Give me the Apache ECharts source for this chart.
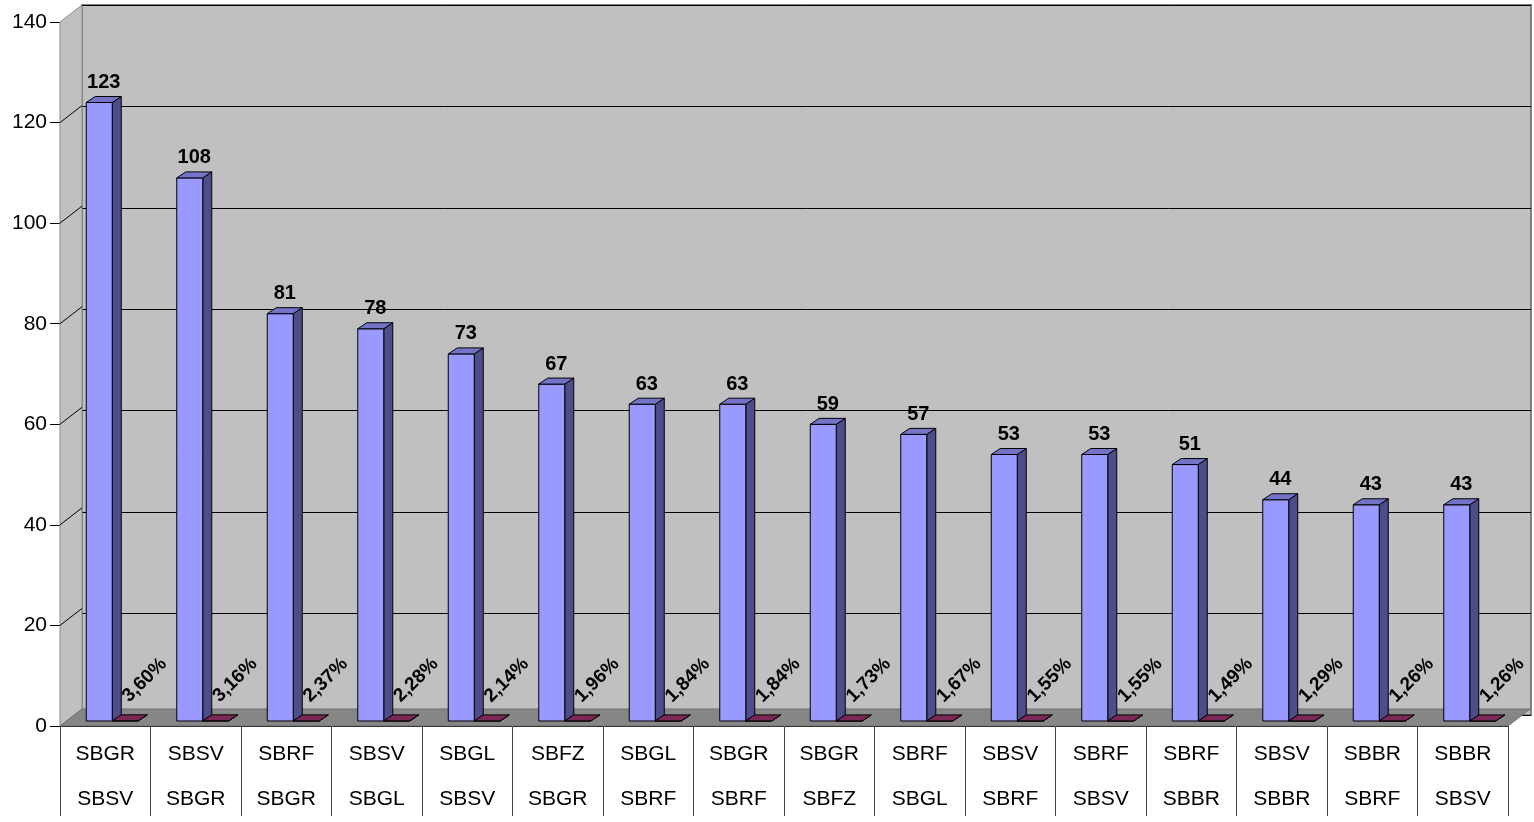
<!DOCTYPE html>
<html>
<head>
<meta charset="utf-8">
<script src="https://cdn.jsdelivr.net/npm/echarts@6/dist/echarts.min.js"></script>
<style>
html,body{margin:0;padding:0;background:#fff;}
#chart{width:1534px;height:822px;}
</style>
</head>
<body>
<div id="chart"></div>
<script>
// ---- data ----
const categories = [
  "SBGR\nSBSV","SBSV\nSBGR","SBRF\nSBGR","SBSV\nSBGL","SBGL\nSBSV","SBFZ\nSBGR","SBGL\nSBRF","SBGR\nSBRF",
  "SBGR\nSBFZ","SBRF\nSBGL","SBSV\nSBRF","SBRF\nSBSV","SBRF\nSBBR","SBSV\nSBBR","SBBR\nSBRF","SBBR\nSBSV"
];
const counts = [123,108,81,78,73,67,63,63,59,57,53,53,51,44,43,43];
const percents = [3.60,3.16,2.37,2.28,2.14,1.96,1.84,1.84,1.73,1.67,1.55,1.55,1.49,1.29,1.26,1.26];
const yTicks = [0,20,40,60,80,100,120,140];

// ---- style constants ----
const FONT = "'Liberation Sans', Arial, sans-serif";
const WALL_DX = 22, WALL_DY = -17;   // depth of walls
const BAR_DX = 7, BAR_DY = -5;       // bar plane offset
const BAR_W = 26, BD_X = 9, BD_Y = -6; // bar width and bar depth

const chart = echarts.init(document.getElementById('chart'), null, {renderer:'canvas'});

const barData = counts.map((c,i)=>[i, c, percents[i]/100, percents[i]]);
const wallData = yTicks.map(v=>[0, v]);

function box(x, yTop, yBot, front, side, top) {
  const els = [];
  els.push({type:'polygon', shape:{points:[[x+BAR_W,yTop],[x+BAR_W+BD_X,yTop+BD_Y],[x+BAR_W+BD_X,yBot+BD_Y],[x+BAR_W,yBot]]},
    style:{fill:side, stroke:'#000', lineWidth:1}});
  els.push({type:'rect', shape:{x:x, y:yTop, width:BAR_W, height:Math.max(yBot-yTop,0)},
    style:{fill:front, stroke:'#000', lineWidth:1}});
  els.push({type:'polygon', shape:{points:[[x,yTop],[x+BAR_W,yTop],[x+BAR_W+BD_X,yTop+BD_Y],[x+BD_X,yTop+BD_Y]]},
    style:{fill:top, stroke:'#000', lineWidth:1}});
  return els;
}

const option = {
  animation:false,
  backgroundColor:'#ffffff',
  grid:[
    {left:60, right:26, top:22, bottom:90, containLabel:false},
    {left:82, right:3, top:5, bottom:107, show:true, backgroundColor:'#c0c0c0', borderColor:'#808080', borderWidth:2}
  ],
  xAxis:[
    {type:'category', gridIndex:0, data:categories, boundaryGap:true,
     axisLine:{show:true, lineStyle:{color:'#000', width:1}},
     axisTick:{show:true, interval:0, length:90, lineStyle:{color:'#404040', width:1}},
     axisLabel:{interval:0, margin:6, color:'#000', fontFamily:FONT, fontSize:21, lineHeight:45}},
    {type:'category', gridIndex:1, data:categories, show:false}
  ],
  yAxis:[
    {type:'value', gridIndex:0, min:0, max:140, interval:20,
     axisLine:{show:true, lineStyle:{color:'#555', width:1}},
     axisTick:{show:true, length:10, lineStyle:{color:'#000'}},
     axisLabel:{margin:13, color:'#000', fontFamily:FONT, fontSize:21},
     splitLine:{show:false}},
    {type:'value', gridIndex:1, min:0, max:140, interval:20,
     axisLine:{show:false}, axisTick:{show:false}, axisLabel:{show:false},
     splitLine:{show:true, lineStyle:{color:'#000', width:1}}}
  ],
  series:[
    {
      type:'custom', name:'walls', xAxisIndex:0, yAxisIndex:0, z:1, silent:true, clip:false,
      data: wallData,
      renderItem:function(params, api){
        const v = api.value(1);
        const band = api.size([1,0])[0];
        const p = api.coord([0, v]);
        const x0 = p[0] - band/2;
        const children = [];
        if (params.dataIndex === 0) {
          const yb = api.coord([0, 0])[1];
          const yt = api.coord([0, 140])[1];
          const x1 = api.coord([categories.length-1, 0])[0] + band/2;
          children.push({type:'polygon', shape:{points:[[x0,yb],[x0,yt],[x0+WALL_DX,yt+WALL_DY],[x0+WALL_DX,yb+WALL_DY]]},
            style:{fill:'#c0c0c0', stroke:'#8c8c8c', lineWidth:1}});
          children.push({type:'polygon', shape:{points:[[x0,yb],[x1,yb],[x1+WALL_DX,yb+WALL_DY],[x0+WALL_DX,yb+WALL_DY]]},
            style:{fill:'#868686', stroke:'#707070', lineWidth:1}});
        }
        if (v > 0 && v < 140) {
          children.push({type:'line', shape:{x1:x0, y1:p[1], x2:x0+WALL_DX, y2:p[1]+WALL_DY},
            style:{stroke:'#000', lineWidth:1}});
        }
        return {type:'group', children:children};
      }
    },
    {
      type:'custom', name:'bars', xAxisIndex:0, yAxisIndex:0, z:3, clip:false,
      data: barData,
      encode:{x:0, y:1},
      renderItem:function(params, api){
        const i = api.value(0);
        const c = api.value(1);
        const f = api.value(2);
        const pctText = api.value(3).toFixed(2).replace('.', ',') + '%';
        const base = api.coord([i, 0]);
        const topC = api.coord([i, c]);
        const topP = api.coord([i, f]);
        const cx = base[0] + BAR_DX;
        const yb = base[1] + BAR_DY;
        const ytC = topC[1] + BAR_DY;
        const ytP = topP[1] + BAR_DY;
        const bx = cx - BAR_W;
        const rx = cx;
        let children = [];
        children = children.concat(box(bx, ytC, yb, '#9999ff', '#4d4d8a', '#7373c8'));
        children = children.concat(box(rx, ytP, yb, '#993366', '#5c1f3d', '#7a2855'));
        children.push({type:'text', x: bx + BAR_W/2 + BD_X/2, y: ytC - 20,
          style:{text:String(c), textAlign:'center', textVerticalAlign:'middle',
            font:'bold 20px ' + FONT, fill:'#000'}});
        children.push({type:'text', x: rx + 20, y: ytP - 15, rotation: Math.PI/4,
          style:{text:pctText, textAlign:'left', textVerticalAlign:'bottom',
            font:'bold 19px ' + FONT, fill:'#000'}});
        return {type:'group', children:children};
      }
    }
  ]
};
chart.setOption(option);
</script>
</body>
</html>
